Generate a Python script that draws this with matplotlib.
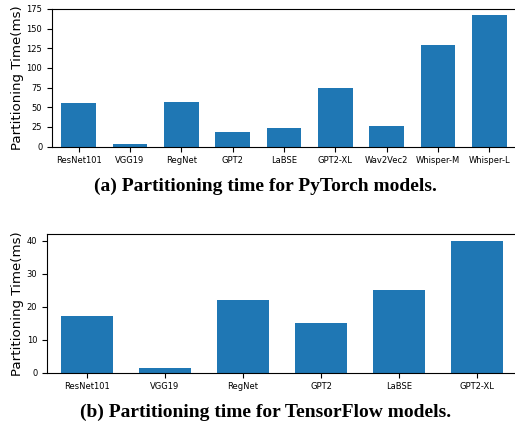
import matplotlib
matplotlib.use("Agg")
import matplotlib.pyplot as plt

pt_models = ["ResNet101", "VGG19", "RegNet", "GPT2", "LaBSE", "GPT2-XL", "Wav2Vec2", "Whisper-M", "Whisper-L"]
pt_times = [55, 3, 56.5, 18, 23.5, 74, 26, 129, 167]

tf_models = ["ResNet101", "VGG19", "RegNet", "GPT2", "LaBSE", "GPT2-XL"]
tf_times = [17.1, 1.4, 22, 15, 25, 40]

fig = plt.figure(figsize=(5.15, 4.26), dpi=100)
W, H = 515, 426

def axes_px(l, t, r, b):
    return fig.add_axes([l / W, 1 - b / H, (r - l) / W, (b - t) / H])

bar_color = "#1f77b4"

ax1 = axes_px(52, 9, 516, 146.5)
ax1.bar(range(len(pt_models)), pt_times, width=0.68, color=bar_color)
ax1.set_xticks(range(len(pt_models)))
ax1.set_xticklabels(pt_models, fontsize=6)
ax1.set_ylim(0, 175)
ax1.set_yticks([0, 25, 50, 75, 100, 125, 150, 175])
ax1.tick_params(axis="y", labelsize=6)
ax1.set_xlim(-0.52, len(pt_models) - 1 + 0.52)
ax1.set_ylabel("Partitioning Time(ms)", fontsize=9.6, labelpad=2)

ax2 = axes_px(47, 234, 517, 372.7)
ax2.bar(range(len(tf_models)), tf_times, width=0.67, color=bar_color)
ax2.set_xticks(range(len(tf_models)))
ax2.set_xticklabels(tf_models, fontsize=6)
ax2.set_ylim(0, 42)
ax2.set_yticks([0, 10, 20, 30, 40])
ax2.tick_params(axis="y", labelsize=6)
ax2.set_xlim(-0.51, len(tf_models) - 1 + 0.51)
ax2.set_ylabel("Partitioning Time(ms)", fontsize=9.6, labelpad=2)

cap_font = dict(family="Liberation Serif", fontweight="bold", fontsize=14, ha="center", va="center")
fig.text(265 / W, 1 - 186 / H, "(a) Partitioning time for PyTorch models.", **cap_font)
fig.text(266 / W, 1 - 412 / H, "(b) Partitioning time for TensorFlow models.", **cap_font)

fig.savefig("out.png", dpi=100)
